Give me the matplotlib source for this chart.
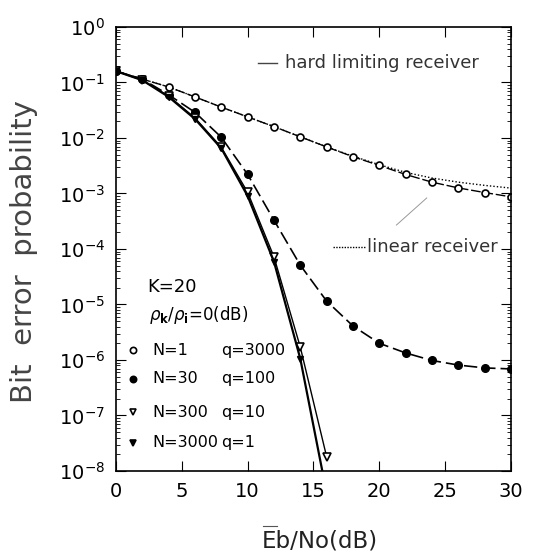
import numpy as np
import matplotlib
matplotlib.use("Agg")
import matplotlib.pyplot as plt
from matplotlib.ticker import LogLocator, NullFormatter

plt.rcParams['font.family'] = ['DejaVu Sans']
plt.rcParams['mathtext.fontset'] = 'dejavusans'

# Eb/No (dB) values of the markers
snr = [0, 2, 4, 6, 8, 10, 12, 14, 16, 18, 20, 22, 24, 26, 28, 30]

# N=1 q=3000, hard limiting receiver (open circles)
ber_n1_hard = [0.16, 0.115, 0.083, 0.055, 0.036, 0.024, 0.016, 0.0105,
               0.0069, 0.0046, 0.0032, 0.0022, 0.0016, 0.00126, 0.00104, 0.00087]
# N=1, linear receiver (dotted)
snr_lin = [0, 2, 4, 6, 8, 10, 12, 14, 16, 18, 20, 22, 24, 26, 28, 30]
ber_n1_lin = [0.16, 0.115, 0.083, 0.055, 0.036, 0.024, 0.016, 0.0105,
              0.0069, 0.0047, 0.0033, 0.0024, 0.0019, 0.0016, 0.0014, 0.00125]

# N=30 q=100 (filled circles)
ber_n30 = [0.16, 0.115, 0.06, 0.029, 0.0103, 0.0022, 3.3e-4, 5.1e-5,
           1.15e-5, 4.1e-6, 2.0e-6, 1.34e-6, 9.8e-7, 8.1e-7, 7.2e-7, 6.9e-7]

# N=300 q=10 (open triangles)
snr_tri = [0, 2, 4, 6, 8, 10, 12, 14, 16]
ber_n300 = [0.16, 0.11, 0.057, 0.023, 0.0068, 0.00105, 7.2e-5, 1.7e-6, 1.8e-8]
# N=3000 q=1 (filled triangles)
ber_n3000 = [0.16, 0.11, 0.055, 0.022, 0.0065, 0.0009, 5.9e-5, 1.05e-6, 4e-9]

# legend block entries
leg_n = ["N=1", "N=30", "N=300", "N=3000"]
leg_q = ["q=3000", "q=100", "q=10", "q=1"]

fig = plt.figure(figsize=(5.41, 5.53), dpi=100)
ax = fig.add_axes([0.2144, 0.1483, 0.7301, 0.8029])

ax.plot(snr_lin, ber_n1_lin, color="k", linestyle=(0, (1, 1.5)), linewidth=1.0)
ax.plot(snr, ber_n1_hard, color="k", linestyle=(0, (7, 2)), linewidth=1.0,
        marker="o", markersize=5, markerfacecolor="white", markeredgewidth=1.2)
ax.plot(snr, ber_n30, color="k", linestyle=(0, (8, 3)), linewidth=1.2,
        marker="o", markersize=5.5, markerfacecolor="k")
ax.plot(snr_tri, ber_n300, color="k", linestyle="-", linewidth=1.0,
        marker="v", markersize=6, markerfacecolor="white", markeredgewidth=1.2)
ax.plot(snr_tri, ber_n3000, color="k", linestyle="-", linewidth=1.6,
        marker="v", markersize=5, markerfacecolor="k")

ax.set_yscale("log")
ax.set_xlim(0, 30)
ax.set_ylim(1e-8, 1)
ax.set_xticks([0, 5, 10, 15, 20, 25, 30])
ax.yaxis.set_major_locator(LogLocator(base=10, numticks=12))
ax.yaxis.set_minor_locator(LogLocator(base=10, subs=np.arange(2, 10), numticks=12))
ax.yaxis.set_minor_formatter(NullFormatter())
ax.tick_params(which="both", direction="in", top=True, right=True, labelsize=14, pad=8)
ax.tick_params(which="major", length=7)
ax.tick_params(which="minor", length=3)
for sp in ax.spines.values():
    sp.set_linewidth(1.2)

fig.text(0.044, 0.546, "Bit  error  probability", fontsize=21, rotation=90,
         ha="center", va="center", color="#444444")
fig.text(0.592, 0.0217, "Eb/No(dB)", fontsize=16.5, ha="center", va="center", color="#222222")
# bar over "Eb"
fig.add_artist(plt.Line2D([0.486, 0.512], [0.0488, 0.0488], color="#555555", linewidth=0.8,
                          transform=fig.transFigure))

# curve annotations
ax.plot([10.8, 12.2], [0.224, 0.224], color="#444444", linewidth=1.0)
ax.text(12.8, 0.224, "hard limiting receiver", fontsize=13, va="center", color="#333333")
ax.plot([16.5, 18.9], [1.1e-4, 1.1e-4], color="k", linestyle=(0, (1, 1)), linewidth=1.0)
ax.text(19.1, 1.1e-4, "linear receiver", fontsize=13, va="center", color="#333333")
ax.plot([23.6, 21.3], [8.3e-4, 2.7e-4], color="#999999", linewidth=0.7)

# legend block
ax.text(2.4, 2.1e-5, "K=20", fontsize=13, va="center")
ax.text(2.5, 6.5e-6, r"$\rho_\mathbf{k}/\rho_\mathbf{i}$=0(dB)", fontsize=12, va="center")
leg_y = [1.5e-6, 4.6e-7, 1.15e-7, 3.2e-8]
leg_m = [("o", "white"), ("o", "k"), ("v", "white"), ("v", "k")]
for yv, n, q, (m, fc) in zip(leg_y, leg_n, leg_q, leg_m):
    ax.plot([1.3], [yv], marker=m, markersize=4.5, markerfacecolor=fc,
            markeredgecolor="k", markeredgewidth=1.2, linestyle="none")
    ax.text(2.8, yv, n, fontsize=11.5, va="center")
    ax.text(8.0, yv, q, fontsize=11.5, va="center")

fig.savefig("out.png", dpi=100)
